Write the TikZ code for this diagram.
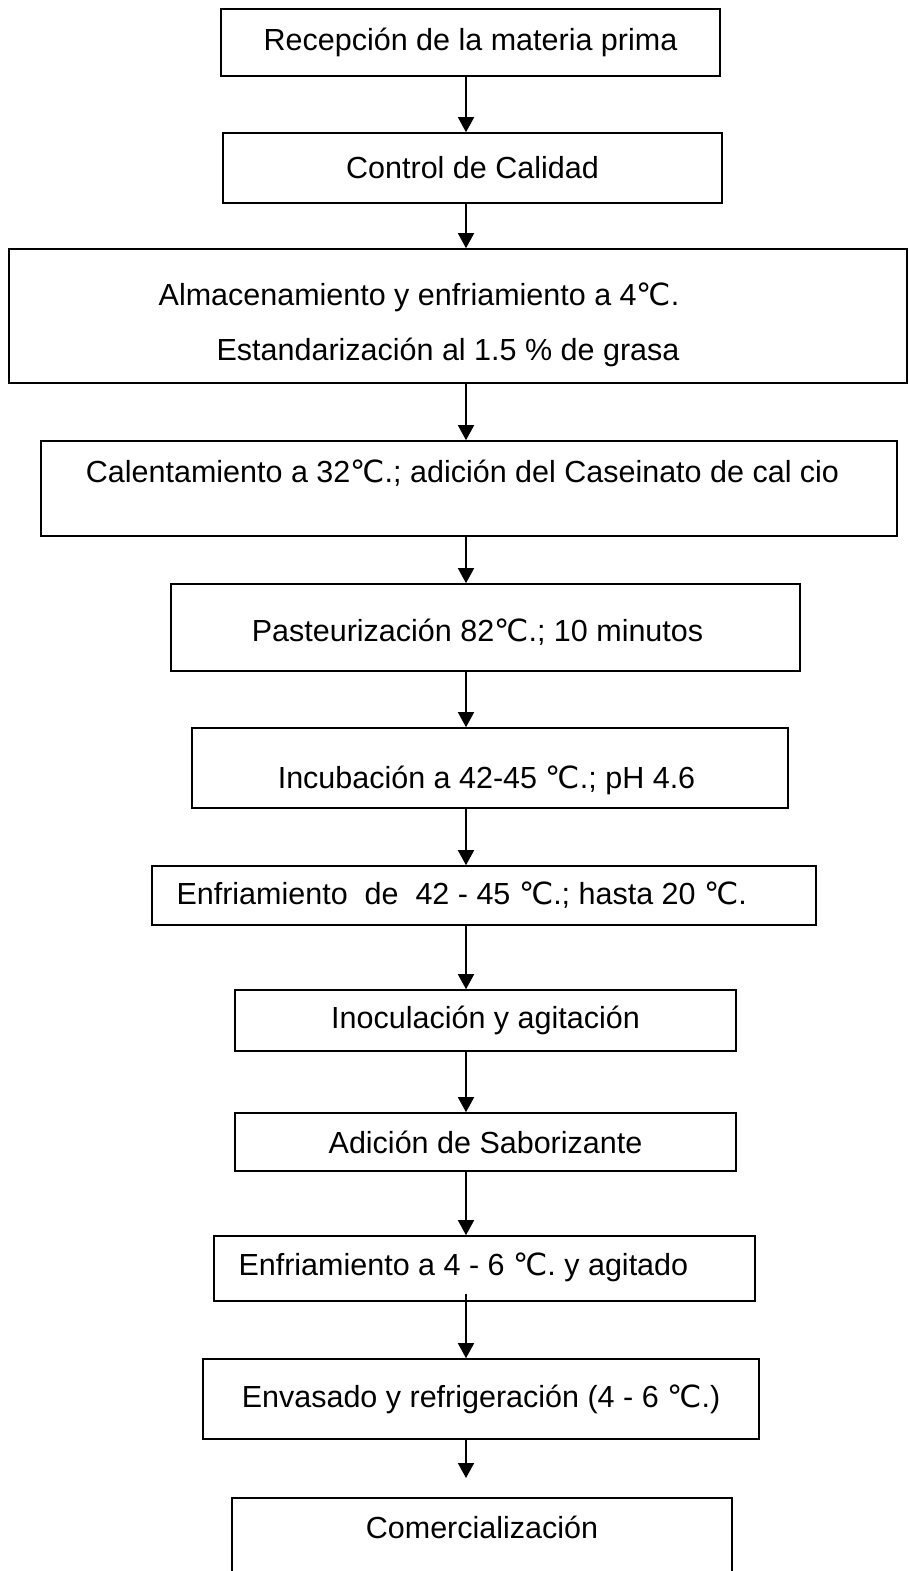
\documentclass[tikz,border=0pt]{standalone}
\usepackage{fontspec}
\setmainfont{Liberation Sans}
\newfontfamily\simbolo{DejaVu Sans}
\usetikzlibrary{arrows.meta}
\newcommand{\gc}{{\simbolo ℃}}
\frenchspacing
\begin{document}
\begin{tikzpicture}[x=1pt,y=-1pt,>={Triangle[width=16pt,length=15pt]},
	font=\fontsize{30.5}{36}\selectfont, line join=miter,
	paso/.style={draw,line width=1.6pt,inner sep=0pt},
	flecha/.style={->,line width=1.5pt}]
	
	\useasboundingbox (0,0) rectangle (909,1571);
	\clip (0,0) rectangle (909,1571);
	\coordinate (eje) at (466,0);
	
	% cajas
	\node[paso,minimum width=499pt,minimum height=67pt] (recep) at (470.5,42.5) {Recepción de la materia prima};
	\node[paso,minimum width=499pt,minimum height=70pt] (control) at (472.5,168) {Control de Calidad};
	\node[paso,minimum width=898pt,minimum height=134pt] (almac) at (458,316) {};
	\node[anchor=east] (almacA) at (683,297) {Almacenamiento y enfriamiento a 4\gc.};
	\node[anchor=east] (almacB) at (683,352) {Estandarización al 1.5 \% de grasa};
	\node[paso,minimum width=856pt,minimum height=95pt] (calent) at (469,488.5) {};
	\node (calentT) at (462.5,473) {Calentamiento a 32\gc.; adición del Caseinato de cal cio};
	\node[paso,minimum width=629pt,minimum height=87pt] (paste) at (485.5,627.5) {};
	\node (pasteT) at (477.5,632) {Pasteurización 82\gc.; 10 minutos};
	\node[paso,minimum width=596pt,minimum height=80pt] (incub) at (490,768) {};
	\node (incubT) at (486.5,780) {Incubación a 42-45 \gc.; pH 4.6};
	\node[paso,minimum width=664pt,minimum height=59pt] (enfrA) at (484,895.5) {};
	\node[anchor=west] (enfrAT) at (173,895) {Enfriamiento\ \ de\ \ 42 - 45 \gc.; hasta 20 \gc.};
	\node[paso,minimum width=501pt,minimum height=61pt] (inoc) at (485.5,1020.5) {Inoculación y agitación};
	\node[paso,minimum width=501pt,minimum height=58pt] (sabor) at (485.5,1142) {Adición de Saborizante};
	\node[paso,minimum width=541pt,minimum height=65pt] (enfrB) at (484.5,1268.5) {};
	\node[anchor=west] (enfrBT) at (235,1267) {Enfriamiento a 4 - 6 \gc. y agitado};
	\node[paso,minimum width=556pt,minimum height=80pt] (envas) at (481,1399) {Envasado y refrigeración (4 - 6 \gc.)};
	\node[paso,minimum width=500pt,minimum height=92pt] (comer) at (482,1544) {};
	\node (comerT) at (482,1527) {Comercialización};
	
	% flechas
	\draw[flecha] (recep.south -| eje) -- (control.north -| eje);
	\draw[flecha] (control.south -| eje) -- (almac.north -| eje);
	\draw[flecha] (almac.south -| eje) -- (calent.north -| eje);
	\draw[flecha] (calent.south -| eje) -- (paste.north -| eje);
	\draw[flecha] (paste.south -| eje) -- (incub.north -| eje);
	\draw[flecha] (incub.south -| eje) -- (enfrA.north -| eje);
	\draw[flecha] (enfrA.south -| eje) -- (inoc.north -| eje);
	\draw[flecha] (inoc.south -| eje) -- (sabor.north -| eje);
	\draw[flecha] (sabor.south -| eje) -- (enfrB.north -| eje);
	\draw[flecha] ([yshift=8pt]enfrB.south -| eje) -- (envas.north -| eje);
	\coordinate (fin) at (466,1478);
	\draw[flecha] (envas.south -| eje) -- (fin);
\end{tikzpicture}
\end{document}
